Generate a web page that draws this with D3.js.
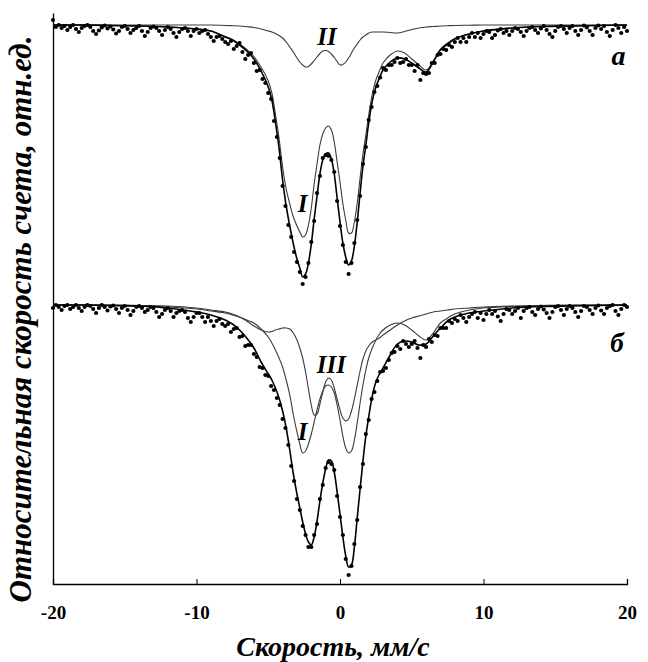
<!DOCTYPE html>
<html>
<head>
<meta charset="utf-8">
<script src="https://cdn.jsdelivr.net/npm/d3@7"></script>
<style>
  html, body { margin: 0; padding: 0; background: #fff; }
  svg { display: block; }
  text { font-family: "Liberation Serif", "DejaVu Serif", serif; fill: #000; }
</style>
</head>
<body>
<div id="chart"></div>
<script>
// ---------- DATA ----------
const xTicks = [-20, -10, 0, 10, 20];
const xTickLabels = ["-20", "-10", "0", "10", "20"];
const xTitle = "Скорость, мм/с";
const yTitle = "Относительная скорость счета, отн.ед.";

// channel velocities of the measured points (mm/s)
const velocity = [
-20,-19.8,-19.6,-19.4,-19.2,-19,-18.8,-18.6,-18.4,-18.2,
-18,-17.8,-17.6,-17.4,-17.2,-17,-16.8,-16.6,-16.4,-16.2,
-16,-15.8,-15.6,-15.4,-15.2,-15,-14.8,-14.6,-14.4,-14.2,
-14,-13.8,-13.6,-13.4,-13.2,-13,-12.8,-12.6,-12.4,-12.2,
-12,-11.8,-11.6,-11.4,-11.2,-11,-10.8,-10.6,-10.4,-10.2,
-10,-9.8,-9.6,-9.4,-9.2,-9,-8.8,-8.6,-8.4,-8.2,
-8,-7.8,-7.6,-7.4,-7.2,-7,-6.8,-6.6,-6.4,-6.2,
-6,-5.8,-5.6,-5.4,-5.2,-5,-4.8,-4.6,-4.4,-4.2,
-4,-3.8,-3.6,-3.4,-3.2,-3,-2.8,-2.6,-2.4,-2.2,
-2,-1.8,-1.6,-1.4,-1.2,-1,-0.8,-0.6,-0.4,-0.2,
0,0.2,0.4,0.6,0.8,1,1.2,1.4,1.6,1.8,
2,2.2,2.4,2.6,2.8,3,3.2,3.4,3.6,3.8,
4,4.2,4.4,4.6,4.8,5,5.2,5.4,5.6,5.8,
6,6.2,6.4,6.6,6.8,7,7.2,7.4,7.6,7.8,
8,8.2,8.4,8.6,8.8,9,9.2,9.4,9.6,9.8,
10,10.2,10.4,10.6,10.8,11,11.2,11.4,11.6,11.8,
12,12.2,12.4,12.6,12.8,13,13.2,13.4,13.6,13.8,
14,14.2,14.4,14.6,14.8,15,15.2,15.4,15.6,15.8,
16,16.2,16.4,16.6,16.8,17,17.2,17.4,17.6,17.8,
18,18.2,18.4,18.6,18.8,19,19.2,19.4,19.6,19.8,
20];

// spectrum "а": measured relative count rate
const countsA = [
1.005,0.998,1.000,0.997,0.999,0.995,0.998,1.000,0.996,0.993,
0.997,0.999,1.000,0.998,0.994,0.991,0.9945,0.9975,0.9995,0.9965,
0.9985,0.9955,0.9915,0.994,0.998,0.999,0.996,0.992,0.995,0.997,
0.999,0.994,0.989,0.993,0.997,0.9985,0.997,0.994,0.990,0.995,
0.998,0.996,0.992,0.988,0.993,0.996,0.997,0.994,0.989,0.994,
0.996,0.992,0.994,0.995,0.991,0.988,0.984,0.988,0.989,0.986,
0.983,0.981,0.984,0.976,0.979,0.982,0.973,0.966,0.970,0.972,
0.962,0.954,0.955,0.946,0.942,0.932,0.926,0.904,0.888,0.867,
0.839,0.819,0.800,0.788,0.773,0.763,0.753,0.741,0.748,0.762,
0.783,0.804,0.832,0.849,0.867,0.870,0.869,0.865,0.853,0.824,
0.799,0.780,0.763,0.751,0.762,0.782,0.805,0.829,0.861,0.878,
0.905,0.918,0.933,0.939,0.9475,0.957,0.955,0.960,0.960,0.963,
0.967,0.962,0.963,0.966,0.960,0.960,0.954,0.960,0.945,0.952,
0.951,0.952,0.962,0.962,0.970,0.971,0.976,0.975,0.980,0.978,
0.983,0.987,0.983,0.987,0.983,0.988,0.992,0.988,0.992,0.987,
0.991,0.994,0.993,0.987,0.990,0.9945,0.996,0.992,0.994,0.990,
0.994,0.997,0.996,0.993,0.989,0.994,0.997,0.998,0.995,0.992,
0.9965,0.999,0.995,0.991,0.988,0.994,0.998,0.999,0.996,0.992,
0.997,0.999,0.994,0.990,0.995,0.9995,0.9975,0.994,0.990,0.997,
0.9995,0.996,0.999,0.993,0.989,0.995,1.000,0.997,0.992,0.998,
0.994];

// spectrum "б": measured relative count rate
const countsB = [
0.997,1.000,0.998,0.995,0.999,1.000,0.996,0.998,1.000,0.997,
0.994,0.998,1.000,0.999,0.996,0.992,0.997,1.000,0.998,0.9945,
0.9985,0.9995,0.996,0.992,0.997,0.999,0.995,0.990,0.994,0.998,
0.999,0.997,0.993,0.995,0.998,0.997,0.993,0.988,0.991,0.995,
0.997,0.994,0.988,0.992,0.994,0.995,0.993,0.987,0.983,0.988,
0.992,0.992,0.988,0.983,0.988,0.984,0.979,0.984,0.986,0.981,
0.979,0.981,0.973,0.976,0.977,0.968,0.969,0.959,0.960,0.960,
0.951,0.948,0.938,0.937,0.930,0.929,0.919,0.915,0.907,0.900,
0.886,0.877,0.860,0.839,0.824,0.806,0.795,0.779,0.770,0.758,
0.758,0.770,0.781,0.806,0.820,0.837,0.843,0.841,0.835,0.809,
0.788,0.770,0.746,0.730,0.739,0.761,0.785,0.818,0.841,0.871,
0.885,0.906,0.913,0.924,0.933,0.934,0.937,0.945,0.952,0.953,
0.959,0.956,0.964,0.961,0.958,0.961,0.964,0.957,0.947,0.960,
0.958,0.966,0.963,0.970,0.969,0.977,0.977,0.977,0.984,0.982,
0.986,0.984,0.990,0.987,0.983,0.988,0.991,0.993,0.987,0.992,
0.985,0.991,0.995,0.991,0.994,0.9885,0.984,0.991,0.996,0.995,
0.991,0.994,0.997,0.987,0.994,0.997,0.998,0.993,0.990,0.996,
0.9985,0.9955,0.992,0.987,0.993,0.998,0.999,0.995,0.990,0.996,
0.999,0.997,0.993,0.988,0.994,0.999,0.998,0.995,0.991,0.997,
0.9995,0.9945,0.991,0.997,0.999,1.000,0.994,0.990,0.996,1.000,
0.998];

// velocities at which the fitted curves are tabulated
const fitVelocity = [-20,-18,-16,-14,-12,-10,-9,-8,-7.5,-7,-6.5,-6,-5.5,-5,-4.75,-4.5,-4.25,-4,-3.75,-3.5,-3.25,-3,
-2.8,-2.6,-2.4,-2.2,-2,-1.8,-1.6,-1.4,-1.2,-1,-0.8,-0.6,-0.4,-0.2,0,0.2,0.4,0.6,0.8,1,1.2,1.4,1.6,1.8,2,
2.25,2.5,2.75,3,3.5,4,4.5,5,5.5,6,6.5,7,7.5,8,9,10,12,14,16,18,20];

// spectrum а: total fit, component I, component II
const fitA = [1.000,1.000,0.9995,0.999,0.998,0.996,0.994,0.988,0.985,0.980,0.974,0.966,0.954,0.938,0.925,0.903,0.877,0.845,0.819,0.799,0.781,0.766,
0.757,0.748,0.751,0.762,0.781,0.806,0.829,0.851,0.865,0.871,0.872,0.866,0.851,0.827,0.803,0.782,0.768,0.760,0.764,0.779,0.803,0.832,0.859,0.880,0.902,
0.924,0.938,0.947,0.955,0.963,0.967,0.966,0.962,0.957,0.953,0.963,0.975,0.981,0.986,0.991,0.994,0.997,0.9985,0.999,0.9995,1.000];
const compA1 = [1.000,1.000,0.9995,0.999,0.998,0.996,0.994,0.9885,0.9855,0.981,0.9755,0.9685,0.958,0.944,0.932,0.911,0.887,0.858,0.836,0.821,0.808,0.799,
0.793,0.788,0.790,0.800,0.817,0.841,0.861,0.880,0.891,0.897,0.899,0.895,0.883,0.863,0.843,0.821,0.805,0.792,0.792,0.803,0.822,0.847,0.871,0.890,0.910,
0.931,0.945,0.954,0.962,0.970,0.974,0.972,0.966,0.960,0.955,0.964,0.976,0.982,0.9865,0.991,0.994,0.997,0.9985,0.999,0.9995,1.000];
const compA2 = [1.000,1.000,1.000,1.000,1.000,1.000,1.000,0.9995,0.9993,0.999,0.9983,0.9975,0.996,0.994,0.993,0.9915,0.9895,0.987,0.983,0.978,0.973,0.967,
0.963,0.960,0.958,0.9585,0.961,0.9645,0.968,0.9715,0.974,0.9745,0.9735,0.971,0.9675,0.9635,0.960,0.9605,0.963,0.967,0.972,0.977,0.981,0.985,0.988,0.990,0.992,
0.993,0.993,0.993,0.993,0.9925,0.992,0.9935,0.9955,0.997,0.998,0.9985,0.999,0.9993,0.9995,0.9998,1.000,1.000,1.000,1.000,1.000,1.000];

// spectrum б: total fit, component I, component III
const fitB = [1.000,1.000,0.9995,0.999,0.997,0.993,0.990,0.985,0.981,0.975,0.967,0.957,0.943,0.931,0.925,0.917,0.907,0.894,0.877,0.855,0.831,0.811,
0.797,0.783,0.771,0.763,0.760,0.768,0.784,0.804,0.822,0.836,0.845,0.844,0.833,0.813,0.791,0.768,0.749,0.738,0.740,0.758,0.787,0.816,0.844,0.869,0.888,
0.909,0.923,0.931,0.937,0.950,0.961,0.964,0.963,0.960,0.961,0.969,0.977,0.984,0.988,0.992,0.994,0.997,0.9985,0.999,0.9995,1.000];
const compB1 = [1.000,1.000,0.9995,0.999,0.998,0.996,0.994,0.992,0.990,0.988,0.985,0.982,0.976,0.968,0.962,0.955,0.947,0.938,0.925,0.910,0.890,0.873,
0.861,0.852,0.854,0.861,0.871,0.883,0.895,0.906,0.914,0.919,0.920,0.918,0.912,0.900,0.885,0.869,0.857,0.852,0.854,0.865,0.882,0.902,0.920,0.935,0.947,
0.957,0.965,0.971,0.975,0.980,0.982,0.980,0.975,0.969,0.965,0.972,0.982,0.987,0.991,0.995,0.997,0.9985,0.999,0.9995,1.000,1.000];
const compB3 = [1.000,1.000,1.000,0.9995,0.999,0.997,0.995,0.993,0.991,0.988,0.984,0.979,0.975,0.973,0.9735,0.975,0.976,0.977,0.977,0.976,0.972,0.965,
0.957,0.947,0.933,0.916,0.900,0.890,0.891,0.901,0.913,0.923,0.927,0.925,0.917,0.906,0.895,0.887,0.884,0.886,0.894,0.906,0.920,0.934,0.946,0.954,0.959,
0.963,0.965,0.967,0.970,0.975,0.980,0.984,0.987,0.989,0.991,0.993,0.994,0.995,0.996,0.997,0.998,0.999,0.9995,1.000,1.000,1.000];

const spectrumLabels = [
  { text: "а", v: 19.4, t: 0.960, spectrum: "a", size: 28 },
  { text: "II", v: -0.9, t: 0.980, spectrum: "a", size: 25 },
  { text: "I", v: -2.6, t: 0.813, spectrum: "a", size: 25 },
  { text: "б", v: 19.3, t: 0.953, spectrum: "b", size: 27 },
  { text: "III", v: -0.6, t: 0.932, spectrum: "b", size: 25 },
  { text: "I", v: -2.6, t: 0.865, spectrum: "b", size: 25 }
];

// ---------- LAYOUT ----------
const W = 648, H = 662;
const plot = { left: 53, right: 627, top: 13, bottom: 584 };
const offsetB = 0.28; // vertical shift of spectrum б

const svg = d3.select("#chart").append("svg").attr("width", W).attr("height", H);

const x = d3.scaleLinear().domain([-20, 20]).range([plot.left, plot.right]);
const y = d3.scaleLinear().domain([1.012, 0.441]).range([plot.top, plot.bottom]);
const yA = t => y(t);
const yB = t => y(t - offsetB);

// axes
const xAxis = d3.axisBottom(x).tickValues(xTicks).tickSize(-5).tickFormat((d, i) => xTickLabels[i]).tickPadding(22);
const gx = svg.append("g").attr("transform", `translate(0,${plot.bottom})`).call(xAxis);
gx.select(".domain").attr("stroke", "#000").attr("stroke-width", 1.3);
gx.selectAll(".tick line").attr("stroke", "#000").attr("stroke-width", 1);
gx.selectAll(".tick text").attr("font-family", "Liberation Serif, serif").attr("font-weight", "bold").attr("font-size", 19);

const yAxis = d3.axisLeft(y).tickValues([]).tickSizeOuter(0);
const gy = svg.append("g").attr("transform", `translate(${plot.left},0)`).call(yAxis);
gy.select(".domain").attr("stroke", "#000").attr("stroke-width", 1.3);

// axis titles
svg.append("text").attr("x", 333).attr("y", 656).attr("text-anchor", "middle")
  .attr("font-size", 28).attr("font-weight", "bold").attr("font-style", "italic").text(xTitle);
svg.append("text").attr("transform", `translate(31,319) rotate(-90)`)
  .attr("text-anchor", "middle").attr("font-size", 31).attr("font-weight", "bold").attr("font-style", "italic").text(yTitle);

// lines
const lineFrom = (vals, yf) => d3.line().x((d, i) => x(fitVelocity[i])).y(d => yf(d)).curve(d3.curveCatmullRom.alpha(0.5))(vals);
const g = svg.append("g");
const comp = [[compA1, yA], [compA2, yA], [compB1, yB], [compB3, yB]];
comp.forEach(([vals, yf]) => g.append("path").attr("d", lineFrom(vals, yf)).attr("fill", "none").attr("stroke", "#3a3a3a").attr("stroke-width", 1.1));
[[fitA, yA], [fitB, yB]].forEach(([vals, yf]) => g.append("path").attr("d", lineFrom(vals, yf)).attr("fill", "none").attr("stroke", "#000").attr("stroke-width", 1.6));

// points
const pts = svg.append("g");
pts.selectAll("circle.a").data(countsA).enter().append("circle").attr("class", "a")
  .attr("cx", (d, i) => x(velocity[i])).attr("cy", d => yA(d)).attr("r", 2.1).attr("fill", "#000");
pts.selectAll("circle.b").data(countsB).enter().append("circle").attr("class", "b")
  .attr("cx", (d, i) => x(velocity[i])).attr("cy", d => yB(d)).attr("r", 2.1).attr("fill", "#000");

// labels
svg.append("g").selectAll("text").data(spectrumLabels).enter().append("text")
  .attr("x", d => x(d.v)).attr("y", d => d.spectrum === "a" ? yA(d.t) : yB(d.t))
  .attr("text-anchor", "middle").attr("font-size", d => d.size).attr("font-weight", "bold").attr("font-style", "italic")
  .text(d => d.text);
</script>
</body>
</html>
